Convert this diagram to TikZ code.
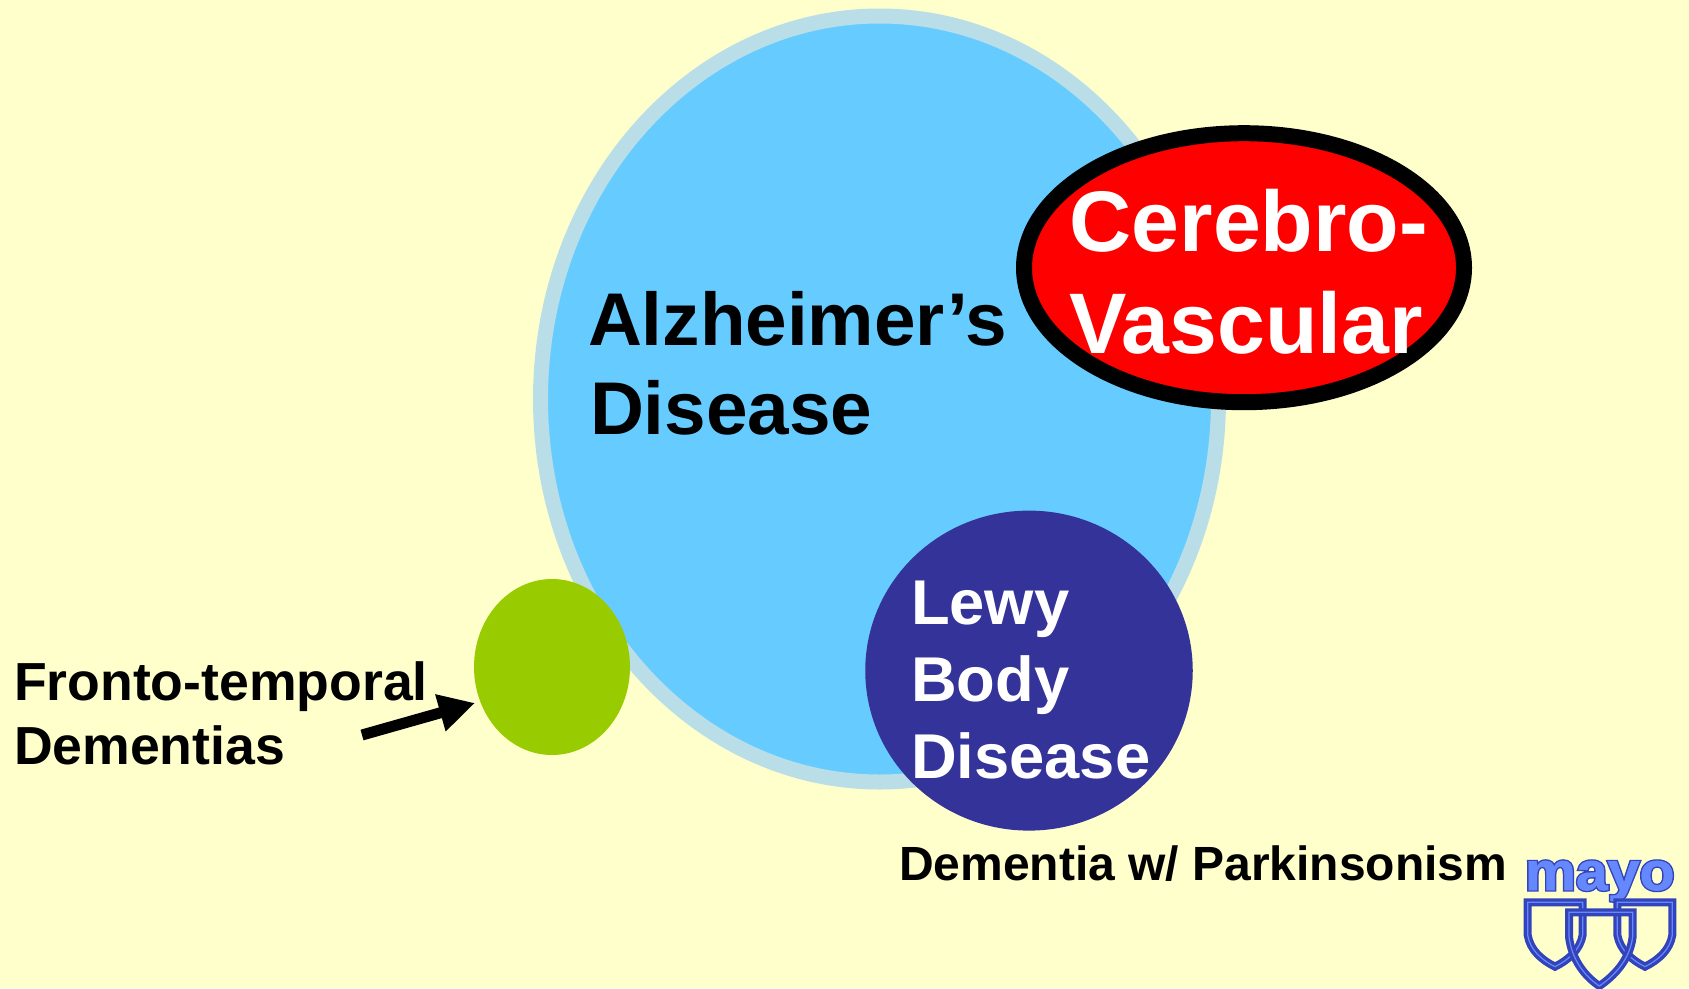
\documentclass[tikz,border=0pt]{standalone}
\usepackage{fontspec}
\setmainfont{Liberation Sans}
\usetikzlibrary{shapes.geometric,arrows.meta}
\definecolor{bgc}{HTML}{FFFFCC}
\definecolor{adfill}{HTML}{66CCFF}
\definecolor{adring}{HTML}{B9DEE8}
\definecolor{lewyc}{HTML}{333399}
\definecolor{ftdc}{HTML}{99CC00}
\definecolor{logofill}{HTML}{6688FF}
\definecolor{logoline}{HTML}{3344BB}
\tikzset{
  blob/.style={ellipse,inner sep=0pt,outer sep=0pt},
  lbl/.style={inner sep=0pt,outer sep=0pt,font=\bfseries,text=black},
  shieldline/.style={draw=logoline,line width=3.4pt,double=logofill,double distance=1.2pt,line join=miter},
}
\begin{document}
\begin{tikzpicture}[x=1pt,y=-1pt]
\useasboundingbox (0,0) rectangle (1689,988);
\fill[bgc] (0,0) rectangle (1689,988);
\node[blob,draw=adring,fill=adfill,line width=15pt,minimum width=678pt,minimum height=766pt] (ad) at (879.5,399) {};
\node[blob,draw=black,fill=red,line width=16pt,minimum width=440pt,minimum height=269pt] (cvd) at (1244,267.7) {};
\node[blob,fill=lewyc,minimum width=327.5pt,minimum height=320pt] (lbd) at (1029,670.6) {};
\node[blob,fill=ftdc,minimum width=156pt,minimum height=176pt] (ftd) at (552,667) {};
\node[lbl,anchor=base west,font=\fontsize{74.7}{89}\selectfont\bfseries] (adtxt) at (588,345) {Alzheimer’s};
\node[lbl,anchor=base west,font=\fontsize{74.7}{89}\selectfont\bfseries] (adtxtb) at (590,434.5) {Disease};
\node[lbl,anchor=base,text=white,font=\fontsize{86}{100}\selectfont\bfseries] (cvtxt) at (1249,251) {Cerebro-};
\node[lbl,anchor=base,text=white,font=\fontsize{86}{100}\selectfont\bfseries] (cvtxtb) at (1246,353) {Vascular};
\node[lbl,anchor=base west,text=white,font=\fontsize{63.3}{75}\selectfont\bfseries] (lbtxt) at (911,624.5) {Lewy};
\node[lbl,anchor=base west,text=white,font=\fontsize{63.3}{75}\selectfont\bfseries] (lbtxtb) at (911,701.5) {Body};
\node[lbl,anchor=base west,text=white,font=\fontsize{63.3}{75}\selectfont\bfseries] (lbtxtc) at (911,778.5) {Disease};
\node[lbl,anchor=base west,font=\fontsize{53.6}{62}\selectfont\bfseries] (fttxt) at (14,700) {Fronto-temporal};
\node[lbl,anchor=base west,font=\fontsize{53.6}{62}\selectfont\bfseries] (fttxtb) at (14,764) {Dementias};
\node[lbl,anchor=base west,font=\fontsize{48}{56}\selectfont\bfseries] (dwp) at (899,880) {Dementia w/ Parkinsonism};
\coordinate (arrtail) at (362,735);
\coordinate (arrtip) at (475,703);
\draw[line width=11pt,-{Triangle[length=36pt,width=36pt]}] (arrtail) -- (arrtip);
% logo
\node[inner sep=0pt,outer sep=0pt,anchor=base west,xscale=1.06,text=logoline,font=\fontsize{54}{60}\selectfont\bfseries] (mayo) at (1525,890)
  {\special{pdf:code q 2 Tr 3.4 w 0.2 0.267 0.733 RG}mayo\special{pdf:code Q}};
\node[inner sep=0pt,outer sep=0pt,anchor=base west,xscale=1.06,text=logofill,font=\fontsize{54}{60}\selectfont\bfseries] (mayob) at (1525,890)
  {\special{pdf:code q 2 Tr 0.6 w 0.4 0.533 1 RG}mayo\special{pdf:code Q}};
\begin{scope}[shift={(1500,840)},x=0.3333pt,y=-0.3333pt]
\draw[shieldline] (83,187) -- (83,285) .. controls (90,330) and (125,360) .. (165,380) .. controls (205,360) and (240,330) .. (248,285) -- (248,187) -- cycle;
\draw[shieldline] (352,187) -- (517,187) -- (517,285) .. controls (510,330) and (475,360) .. (435,380) .. controls (395,360) and (360,330) .. (352,285) -- cycle;
\draw[shieldline] (207,217) -- (398,217) -- (398,290) .. controls (390,360) and (340,410) .. (298,438) .. controls (256,410) and (215,360) .. (207,290) -- cycle;
\end{scope}
\end{tikzpicture}
\end{document}
